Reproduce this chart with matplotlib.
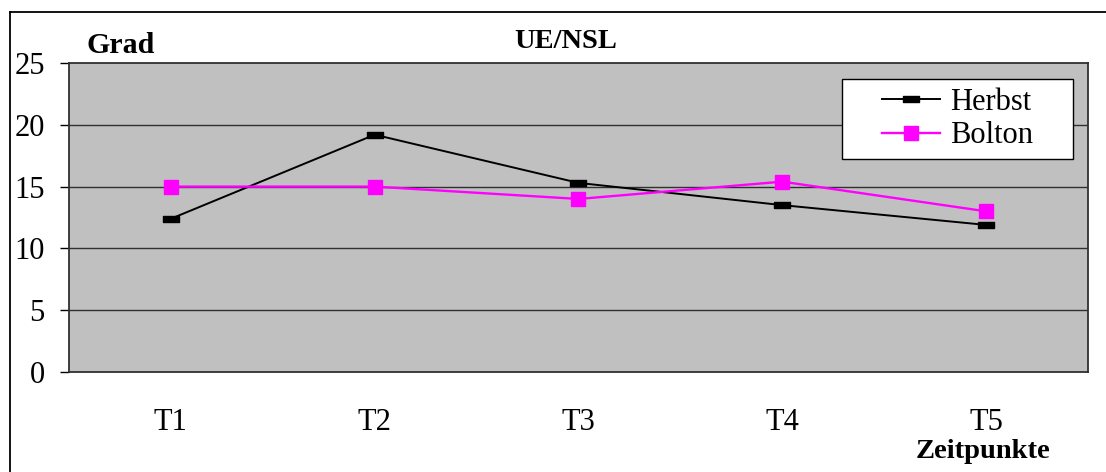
import matplotlib
matplotlib.use("Agg")
import matplotlib.pyplot as plt
from matplotlib.lines import Line2D
from matplotlib.patches import Rectangle
from matplotlib.path import Path

# Messzeitpunkte und Winkel UE/NSL (Grad)
zeitpunkte = ["T1", "T2", "T3", "T4", "T5"]
herbst = [12.4, 19.2, 15.3, 13.5, 11.9]
bolton = [15.0, 15.0, 14.0, 15.4, 13.0]
y_ticks = [0, 5, 10, 15, 20, 25]

plt.rcParams["font.family"] = ["Liberation Serif", "DejaVu Serif"]

fig = plt.figure(figsize=(11.06, 4.72), dpi=100)
ax = fig.add_axes([0.0624, 0.2119, 0.9213, 0.6546])
ax.set_facecolor("#c0c0c0")

x = [i + 0.5 for i in range(len(zeitpunkte))]

# flacher Balken als Marker fuer Herbst
balken = Path([(-1, -0.38), (1, -0.38), (1, 0.38), (-1, 0.38), (-1, -0.38)],
              [Path.MOVETO, Path.LINETO, Path.LINETO, Path.LINETO, Path.CLOSEPOLY])

ax.plot(x, herbst, color="black", lw=1.4, marker=balken, markersize=11.5,
        markerfacecolor="black", markeredgecolor="black", label="Herbst", zorder=3)
ax.plot(x, bolton, color="#ff00ff", lw=1.7, marker="s", markersize=9.5,
        markerfacecolor="#ff00ff", markeredgecolor="#ff00ff", label="Bolton", zorder=3)

ax.set_xlim(0, 5)
ax.set_ylim(0, 25)
ax.set_yticks(y_ticks)
ax.set_xticks(x)
ax.set_xticklabels(zeitpunkte)
ax.tick_params(axis="y", length=6.5, width=1, direction="out", pad=11, labelsize=22)
ax.tick_params(axis="x", length=0, pad=26, labelsize=22)

for yv in y_ticks[1:-1]:
    ax.axhline(yv, color="#303030", lw=1, zorder=1)
for s in ax.spines.values():
    s.set_color("#303030")
    s.set_linewidth(1.3)

# Legende mit eigenem Rahmen
ax.add_patch(Rectangle((0.7586, 0.689), 0.2267, 0.259, transform=ax.transAxes,
                       facecolor="white", edgecolor="black", lw=1, zorder=4.5))
ax.legend(loc="center", bbox_to_anchor=(0.872, 0.8185), frameon=False,
          fontsize=22, handlelength=1.9, handletextpad=0.3, labelspacing=0.15,
          borderpad=0, borderaxespad=0)

fig.text(86 / 1106, 1 - 53 / 472, "Grad", fontsize=21.5, fontweight="bold", va="baseline")
fig.text(566 / 1106, 1 - 48 / 472, "UE/NSL", fontsize=20.5, fontweight="bold",
         ha="center", va="baseline")
fig.text(983 / 1106, 1 - 458 / 472, "Zeitpunkte", fontsize=20.5, fontweight="bold",
         ha="center", va="baseline")

# Rahmen um das Diagramm (nur links und oben sichtbar)
fig.add_artist(Line2D([10 / 1106, 10 / 1106], [0, 1 - 12 / 472], color="black", lw=1.3))
fig.add_artist(Line2D([10 / 1106, 1], [1 - 12 / 472, 1 - 12 / 472], color="black", lw=1.3))

fig.savefig("out.png", dpi=100)
